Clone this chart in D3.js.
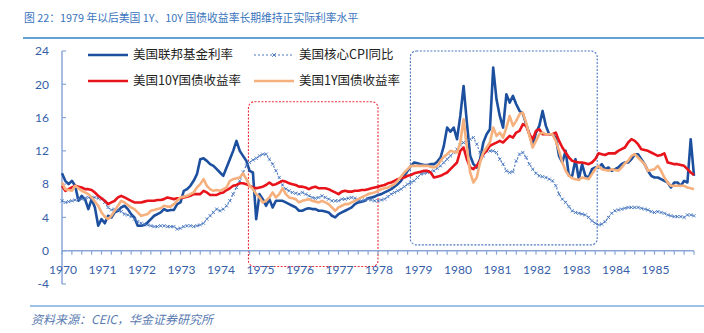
<!DOCTYPE html>
<html><head><meta charset="utf-8">
<script src="https://cdn.jsdelivr.net/npm/d3@7"></script>
<style>body{margin:0;background:#fff}svg{display:block}</style>
</head><body><svg id="c" width="704" height="333"></svg>
<script>
const titleText = "图 22：1979 年以后美国 1Y、10Y 国债收益率长期维持正实际利率水平";
const sourceText = "资料来源：CEIC，华金证券研究所";
const startYear = 1970;
const yearTicks = [1970,1971,1972,1973,1974,1975,1976,1977,1978,1979,1980,1981,1982,1983,1984,1985];
const yTicks = [-4,0,4,8,12,16,20,24];
const seriesNames = ["美国联邦基金利率","美国核心CPI同比","美国10Y国债收益率","美国1Y国债收益率"];

// monthly values, Jan 1970 .. Jan 1986
const fedFunds = [
9.3,8.4,8.0,8.4,7.8,6.0,6.6,6.2,5.0,6.2,5.2,3.0,
3.8,3.3,4.2,4.0,4.6,4.8,5.2,5.4,5.0,4.4,4.0,3.0,
3.0,3.1,3.4,3.8,4.2,4.4,4.6,5.0,4.8,4.9,4.9,5.6,
5.8,7.2,7.4,7.8,8.4,9.2,11.0,11.1,10.8,10.4,10.2,9.8,
9.4,9.0,10.0,11.0,12.0,13.2,12.0,11.4,10.8,9.6,9.4,3.8,
6.8,6.2,5.4,6.2,5.2,6.0,6.0,6.0,5.8,5.6,5.4,5.2,
4.8,4.8,5.0,5.1,5.0,5.0,4.8,4.8,4.7,4.6,4.2,4.0,
4.4,4.6,4.8,5.0,5.2,5.6,5.8,5.9,6.0,6.3,6.4,6.5,
6.7,6.8,7.0,7.2,7.4,7.7,8.0,8.4,9.0,9.6,10.2,10.6,
10.5,10.4,10.3,10.3,10.4,10.4,10.7,11.2,12.6,14.8,14.3,14.8,
13.4,16.2,19.8,15.4,11.4,10.4,10.0,11.0,13.0,14.0,14.6,22.0,
18.2,16.2,14.8,18.8,17.8,18.6,17.6,16.8,16.5,15.2,14.0,12.6,
14.2,15.0,16.8,15.0,14.0,14.0,13.6,11.4,10.6,12.0,9.0,9.0,
11.0,8.6,10.4,9.0,8.8,9.8,10.0,10.0,10.4,9.8,10.0,9.6,
9.8,10.0,10.4,10.6,10.6,11.0,11.6,11.6,11.0,10.4,9.6,9.0,
8.8,8.8,8.6,8.4,8.2,7.6,8.2,8.2,7.8,8.4,8.2,13.4,
9.0];
const coreCPI = [
6.0,5.8,5.9,6.0,6.1,6.2,6.2,6.3,6.4,6.4,6.4,6.3,
6.2,5.8,5.2,4.9,5.0,4.9,4.7,4.4,4.3,4.1,3.8,3.5,
3.3,3.2,3.1,3.0,2.9,2.9,3.0,3.0,2.9,2.9,2.9,2.6,
2.7,2.9,3.0,3.0,2.9,3.0,3.1,3.3,3.8,4.2,4.6,5.0,
4.8,5.0,5.4,6.0,6.8,7.6,8.4,9.4,10.2,10.6,10.9,11.1,
11.4,11.6,11.6,11.0,10.4,9.6,8.8,7.9,7.4,7.2,7.0,6.9,
6.8,7.0,6.8,6.6,6.4,6.3,6.4,6.6,6.4,6.2,6.0,6.0,
6.0,6.2,6.2,6.3,6.4,6.3,6.1,6.0,6.1,6.2,6.1,6.0,
6.0,6.1,6.2,6.5,6.8,7.0,7.2,7.4,7.7,8.0,8.2,8.4,
8.8,9.2,9.3,9.4,9.5,9.6,9.9,10.2,10.6,11.0,11.4,11.8,
12.2,12.7,13.0,13.2,13.4,13.6,12.8,11.8,11.4,12.0,12.0,12.0,
11.8,11.0,10.4,9.6,9.4,9.5,10.8,11.6,11.8,11.2,10.4,9.8,
9.3,9.0,8.9,8.8,8.6,8.4,7.8,6.8,6.2,5.8,5.3,4.8,
4.6,4.5,4.4,4.3,4.0,3.6,3.3,3.1,3.2,3.5,4.0,4.5,
4.8,4.9,5.0,5.1,5.2,5.2,5.2,5.2,5.1,5.0,4.9,4.7,
4.6,4.7,4.6,4.5,4.3,4.2,4.1,4.1,4.1,4.0,4.3,4.3,
4.2];
const ust10y = [
7.8,7.2,7.4,7.6,7.8,7.7,7.6,7.4,7.4,7.3,7.0,6.6,
6.3,6.0,5.6,5.8,6.0,6.4,6.6,6.4,6.2,6.0,5.8,5.8,
5.8,5.9,6.0,6.0,6.0,6.1,6.1,6.2,6.4,6.3,6.2,6.3,
6.3,6.4,6.5,6.6,6.8,6.8,6.8,7.2,7.0,6.7,6.7,6.7,
6.9,7.0,7.3,7.5,7.8,7.9,8.1,8.1,8.0,7.8,7.6,7.5,
7.6,7.7,7.9,8.2,7.9,8.0,8.2,8.4,8.3,8.1,8.0,7.9,
7.7,7.7,7.6,7.4,7.6,7.7,7.5,7.5,7.5,7.4,7.2,7.0,
6.8,7.1,7.2,7.1,7.1,7.2,7.2,7.3,7.3,7.4,7.5,7.6,
7.7,7.8,7.9,8.1,8.2,8.4,8.6,8.7,8.8,9.0,9.1,9.3,
9.4,9.5,9.6,9.6,9.4,8.8,8.9,9.0,9.2,9.4,9.8,10.2,
10.6,12.0,12.4,11.0,10.0,9.8,10.2,10.8,11.6,12.0,12.6,12.8,
13.0,13.2,13.0,13.4,13.8,13.6,14.2,14.4,15.2,15.0,14.0,13.4,
14.4,14.6,14.0,14.0,14.0,14.0,14.2,13.2,12.4,11.8,11.2,10.8,
10.7,10.6,10.6,10.5,10.4,10.6,11.0,11.7,11.6,11.5,11.7,11.7,
11.7,12.0,12.2,12.4,13.0,13.4,13.2,12.8,12.2,12.1,12.0,11.8,
11.6,11.4,11.5,11.7,10.6,10.5,10.4,10.4,10.3,10.2,9.8,9.4,
9.1];
const ust1y = [
8.2,7.4,7.3,7.2,7.8,7.5,7.2,7.0,6.8,6.4,5.9,5.4,
4.6,4.1,3.8,4.2,4.8,5.4,6.0,5.8,5.5,5.2,5.0,4.6,
4.2,4.3,4.4,4.8,4.9,5.0,5.1,5.4,5.3,5.3,5.6,6.0,
6.4,6.5,6.6,6.8,7.0,7.6,8.0,8.6,7.8,7.4,7.2,7.3,
7.2,7.4,7.6,8.4,8.6,8.7,8.8,9.3,8.6,7.8,7.4,6.8,
6.4,5.8,6.0,6.4,7.0,6.4,6.8,7.5,6.8,6.4,6.3,6.2,
5.8,6.0,6.1,6.2,6.0,5.9,5.8,6.0,5.8,5.6,5.2,4.8,
5.2,5.4,5.6,5.6,5.8,6.0,6.2,6.4,6.6,6.8,6.9,7.0,
7.2,7.4,7.5,7.6,7.8,8.0,8.4,8.9,9.4,9.8,10.2,10.2,
10.2,10.2,10.2,10.2,10.1,10.0,10.2,10.8,11.3,11.6,12.0,11.9,
11.8,13.0,15.8,12.4,9.4,8.2,8.8,10.6,11.8,12.4,13.0,14.8,
13.8,14.2,13.6,14.8,16.2,15.0,15.6,16.4,16.6,15.4,13.8,12.4,
13.2,14.0,14.2,14.0,14.0,14.0,13.2,12.0,10.6,9.6,9.0,8.7,
8.6,8.5,8.8,8.7,8.6,9.2,9.8,10.2,9.8,9.7,9.6,9.8,
9.7,9.6,10.0,10.5,10.8,11.4,11.6,11.2,10.8,10.4,9.6,9.7,
9.8,10.2,9.6,8.8,8.2,7.8,7.8,7.8,7.8,7.8,7.6,7.5,
7.4];

// highlighted periods: [start year, end year, top value, bottom value]
const redBox = [1974.72, 1978.0, 17.9, -1.9];
const blueBox = [1978.82, 1983.55, 24.0, 0.7];

const C = {ff:"#1d4f9f", cpi:"#4a78c0", t10:"#e8141b", t1:"#f5b07e", axis:"#8aa6d6", tick:"#3560a8"};

const svg = d3.select("#c");
const x = d3.scaleLinear().domain([1970,1986]).range([62,694]);
const y = d3.scaleLinear().domain([-4,24]).range([284,51]);
const toPts = arr => arr.map((v,i)=>({t:startYear+i/12, v}));

// title
svg.append("text").attr("x",24).attr("y",22).attr("font-family","'Noto Sans CJK SC',sans-serif")
  .attr("font-size",10.8).attr("fill","#3a74bd").text(titleText);
svg.append("line").attr("x1",23).attr("x2",704).attr("y1",38).attr("y2",38)
  .attr("stroke","#2f84c6").attr("stroke-width",1.5);

// boxes
function box(b,color){
  svg.append("rect").attr("x",x(b[0])).attr("y",y(b[2])).attr("width",x(b[1])-x(b[0]))
    .attr("height",y(b[3])-y(b[2])).attr("rx",6).attr("ry",6).attr("fill","none")
    .attr("stroke",color).attr("stroke-width",1.1).attr("stroke-dasharray","2,1.5");
}
box(redBox,"#e8303a");
box(blueBox,"#4a78c0");

// axes
const ya = svg.append("g");
ya.append("line").attr("x1",62).attr("x2",62).attr("y1",y(24)).attr("y2",y(-4)).attr("stroke",C.axis).attr("stroke-width",1.5);
yTicks.forEach(t=>{
  ya.append("line").attr("x1",62).attr("x2",66).attr("y1",y(t)).attr("y2",y(t)).attr("stroke",C.axis).attr("stroke-width",1.2);
  ya.append("text").attr("x",49).attr("y",y(t)).attr("dy","0.36em").attr("text-anchor","end")
    .attr("font-family","Lato,sans-serif").attr("font-size",12).attr("fill",C.tick).text(t);
});
const xa = svg.append("g");
xa.append("line").attr("x1",62).attr("x2",694).attr("y1",y(0)).attr("y2",y(0)).attr("stroke",C.axis).attr("stroke-width",1.5);
const quarterTicks = d3.range(1970,1986.01,0.25);
quarterTicks.forEach(t=>{
  xa.append("line").attr("x1",x(t)).attr("x2",x(t)).attr("y1",y(0)).attr("y2",y(0)+4).attr("stroke",C.axis).attr("stroke-width",1.2);
});
yearTicks.forEach(t=>{
  xa.append("text").attr("x",x(t)+1).attr("y",y(0)+23).attr("text-anchor","middle")
    .attr("font-family","Lato,sans-serif").attr("font-size",12).attr("fill",C.tick).text(t);
});

// lines
const line = d3.line().x(d=>x(d.t)).y(d=>y(d.v));
function drawLine(arr,color,w,dash){
  const p = svg.append("path").datum(toPts(arr)).attr("d",line).attr("fill","none")
    .attr("stroke",color).attr("stroke-width",w).attr("stroke-linejoin","round");
  if(dash) p.attr("stroke-dasharray",dash);
}
drawLine(fedFunds,C.ff,2.6);
drawLine(coreCPI,C.cpi,1.1,"2,2");
const cpiPts = toPts(coreCPI);
const mk = svg.append("g").attr("stroke",C.cpi).attr("stroke-width",0.9);
cpiPts.forEach(d=>{
  const cx=x(d.t), cy=y(d.v), s=1.6;
  mk.append("path").attr("d",`M${cx-s},${cy-s}L${cx+s},${cy+s}M${cx-s},${cy+s}L${cx+s},${cy-s}`);
});
drawLine(ust10y,C.t10,2.6);
drawLine(ust1y,C.t1,2.6);

// legend
const lg = svg.append("g").attr("font-family","'Noto Sans CJK SC',sans-serif").attr("font-size",12.5).attr("fill","#222");
const legendItems = [
  {n:seriesNames[0], c:C.ff, lx:88, ly:55, dash:null},
  {n:seriesNames[1], c:C.cpi, lx:254, ly:55, dash:"2,2", marker:true},
  {n:seriesNames[2], c:C.t10, lx:88, ly:81, dash:null},
  {n:seriesNames[3], c:C.t1, lx:254, ly:81, dash:null}
];
legendItems.forEach(it=>{
  const l = lg.append("line").attr("x1",it.lx).attr("x2",it.lx+40).attr("y1",it.ly).attr("y2",it.ly)
    .attr("stroke",it.c).attr("stroke-width",it.dash?1.2:2.6);
  if(it.dash) l.attr("stroke-dasharray",it.dash);
  if(it.marker){const cx=it.lx+20,cy=it.ly,s=1.8;
    lg.append("path").attr("d",`M${cx-s},${cy-s}L${cx+s},${cy+s}M${cx-s},${cy+s}L${cx+s},${cy-s}`).attr("stroke",it.c).attr("stroke-width",1);}
  lg.append("text").attr("x",it.lx+45).attr("y",it.ly).attr("dy","0.35em").text(it.n);
});

// footer
svg.append("line").attr("x1",30).attr("x2",704).attr("y1",306).attr("y2",306).attr("stroke","#9cc3e6").attr("stroke-width",2);
svg.append("text").attr("x",31).attr("y",324).attr("font-family","'Noto Sans CJK SC',sans-serif")
  .attr("font-size",12).attr("font-style","italic").attr("fill","#5a7bb0").text(sourceText);
</script></body></html>
